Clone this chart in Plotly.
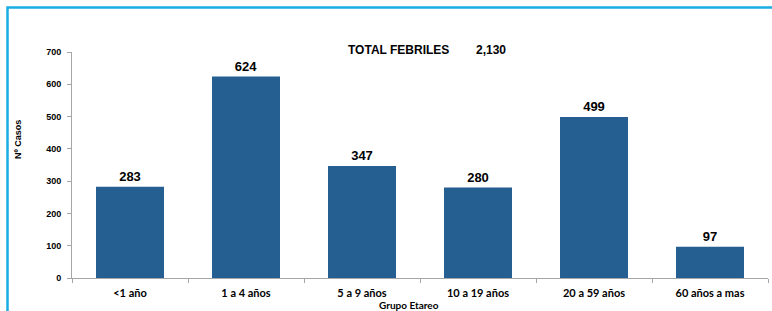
import plotly.graph_objects as go

categories = ["<1 año", "1 a 4 años", "5 a 9 años", "10 a 19 años", "20 a 59 años", "60 años a mas"]
casos = [283, 624, 347, 280, 499, 97]
total_label = "TOTAL FEBRILES"
total_value = "2,130"
y_ticks = [0, 100, 200, 300, 400, 500, 600, 700]

W, H = 772, 311
L, R, T, B = 72, 4, 52, 33
pw, ph = W - L - R, H - T - B

fig = go.Figure()
fig.add_trace(go.Bar(
    x=categories, y=casos,
    marker=dict(color="#255E91", line=dict(width=0)),
    text=casos, textposition="outside",
    textfont=dict(family="Liberation Sans, Arial", size=13, color="#000000", weight="bold"),
    cliponaxis=False,
))

def px_x(x):
    return (x - L) / pw

def px_y(y):
    return (H - B - y) / ph

fig.update_layout(
    width=W, height=H,
    margin=dict(l=L, r=R, t=T, b=B, autoexpand=False),
    paper_bgcolor="white", plot_bgcolor="white",
    bargap=0.414,
    showlegend=False,
    font=dict(family="Liberation Sans, Arial", color="#000000"),
    shapes=[dict(type="rect", xref="paper", yref="paper",
                 x0=px_x(7.5), x1=px_x(W + 20), y0=px_y(H + 20), y1=px_y(7.5),
                 line=dict(color="#1AADE4", width=2.5), fillcolor="rgba(0,0,0,0)",
                 layer="below")],
    annotations=[
        dict(text=f"<b>{total_label}        {total_value}</b>", xref="paper", yref="paper",
             x=px_x(426.5), y=px_y(50), xanchor="center", yanchor="middle", showarrow=False,
             font=dict(size=12, family="Liberation Sans, Arial", color="#000000")),
        dict(text="Grupo Etareo", xref="paper", yref="paper",
             x=px_x(409), y=px_y(305), xanchor="center", yanchor="middle", showarrow=False,
             font=dict(size=10, family="Lato, Liberation Sans", color="#000000", weight="bold")),
        dict(text="Nº Casos", xref="paper", yref="paper", textangle=-90,
             x=px_x(18), y=px_y(140), xanchor="center", yanchor="middle", showarrow=False,
             font=dict(size=9, family="Liberation Sans, Arial", color="#000000", weight="bold")),
    ],
)
fig.update_xaxes(
    automargin=False,
    showline=True, linecolor="#A6A6A6", linewidth=1,
    ticks="outside", ticklen=4, tickcolor="#A6A6A6", tickson="boundaries",
    ticklabelstandoff=5,
    tickfont=dict(size=11, family="Lato, Liberation Sans", color="#000000", weight="bold"),
    showgrid=False,
)
fig.update_yaxes(
    automargin=False,
    range=[0, 700], tickvals=y_ticks,
    showline=True, linecolor="#A6A6A6", linewidth=1,
    ticks="outside", ticklen=4, tickcolor="#A6A6A6",
    ticklabelstandoff=4,
    tickfont=dict(size=9, family="Liberation Sans, Arial", color="#000000", weight="bold"),
    showgrid=False, zeroline=False,
)

fig.write_html("out.html", config={"displayModeBar": False},
               post_script="document.body.style.margin='0';document.body.style.overflow='hidden';")
